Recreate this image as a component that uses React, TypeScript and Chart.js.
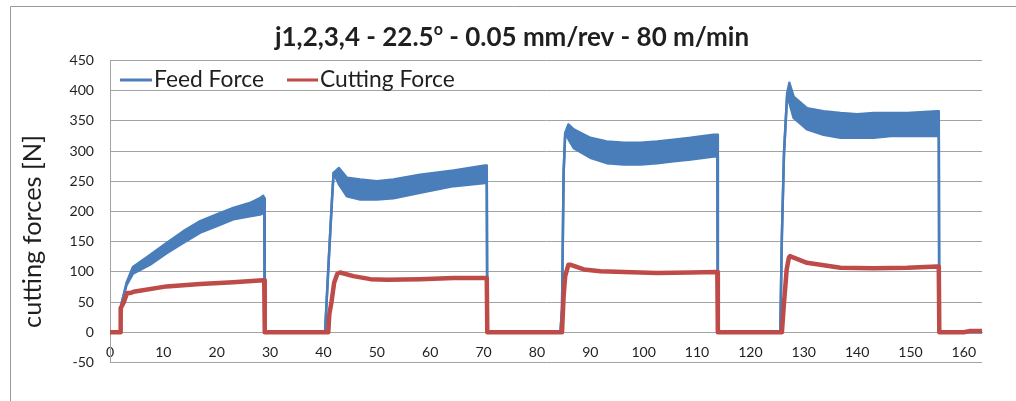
import React, { useEffect, useRef } from "react";
import { Chart, registerables } from "chart.js";

Chart.register(...registerables);

// ---- text ----
const TITLE_MAIN = "j1,2,3,4 - 22.5";
const TITLE_SUP = "o";
const TITLE_REST = " - 0.05 mm/rev - 80 m/min";
const Y_TITLE = "cutting forces [N]";
const SERIES_NAMES = ["Feed Force", "Cutting Force"];

// ---- axis ticks ----
const xTicks = [0, 10, 20, 30, 40, 50, 60, 70, 80, 90, 100, 110, 120, 130, 140, 150, 160];
const yTicks = [-50, 0, 50, 100, 150, 200, 250, 300, 350, 400, 450];
const X_MAX = 163.4;

// ---- Feed Force (noisy band: upper and lower envelope) ----
const feedTime = [
  0, 1.9, 2.2, 3.1, 4.3, 7.5, 10.6, 13.7, 16.9, 20, 23.1, 26.2, 28.1, 28.7, 28.9, 29.0,
  40.3, 40.9, 41.6, 41.9, 42.9, 44.4, 46.9, 50, 53.1, 58.1, 64.4, 70.3, 70.6, 70.7,
  84.4, 84.7, 85.0, 85.3, 85.9, 86.9, 90, 93.1, 96.3, 99.4, 102.5, 105.6, 108.8, 113.1, 113.8, 113.9,
  125.6, 125.9, 126.3, 126.9, 127.3, 128.1, 130.6, 133.7, 136.9, 140, 143.1, 146.3, 149.4, 155.0, 155.3, 155.4, 163.4,
];
const feedUpper = [
  0, 0, 49, 82, 108, 128, 148, 167, 184, 195, 206, 214, 222, 226, 222, 0,
  0, 104, 220, 264, 272, 256, 253, 250, 253, 261, 268, 276, 276, 0,
  0, 38, 264, 330, 344, 336, 322, 316, 314, 314, 316, 319, 322, 327, 327, 0,
  0, 159, 297, 396, 413, 390, 371, 366, 363, 361, 363, 363, 363, 366, 366, 0, 0,
];
const feedLower = [
  0, 0, 49, 78, 97, 112, 131, 148, 165, 176, 187, 192, 195, 197, 200, 0,
  0, 104, 220, 264, 245, 225, 220, 220, 222, 231, 242, 247, 247, 0,
  0, 38, 264, 330, 320, 305, 289, 280, 278, 278, 280, 283, 286, 291, 291, 0,
  0, 159, 297, 396, 380, 355, 336, 327, 322, 322, 322, 325, 325, 325, 325, 0, 0,
];

// ---- Cutting Force ----
const cutTime = [
  0, 1.9, 2.0, 2.6, 3.2, 3.75, 4.4, 10.6, 16.9, 23.1, 28.7, 28.9, 29.0,
  40.9, 41.1, 41.5, 42.0, 42.6, 43.1, 45.6, 48.8, 51.9, 58.1, 64.4, 70.3, 70.6, 70.7,
  84.7, 85.0, 85.3, 85.9, 86.2, 88.8, 91.9, 96.3, 102.5, 108.8, 113.5, 113.8, 113.9,
  125.9, 126.3, 126.8, 127.2, 127.4, 130.6, 136.9, 143.1, 149.4, 155.0, 155.3, 155.4, 160, 161, 163.4,
];
const cutValues = [
  0, 0, 40, 50, 65, 65, 67, 76, 80, 83, 86, 86, 0,
  0, 30, 50, 82, 97, 99, 93, 88, 87, 88, 90, 90, 90, 0,
  0, 60, 93, 112, 112, 104, 101, 100, 98, 99, 100, 100, 0,
  0, 49, 104, 123, 126, 115, 107, 106, 107, 109, 109, 0, 0, 2, 2,
];

const BLUE = "#4A7EBB";
const RED = "#BE4B48";
const GRID = "#a3a3a3";
const FRAME = "#9a9a9a";
const TEXT = "#1f1f1f";
const FAMILY = "Lato, 'Open Sans', sans-serif";

function fitSize(text: string, weight: string, target: number): number {
  const c = document.createElement("canvas").getContext("2d")!;
  c.font = `${weight} 100px ${FAMILY}`;
  const w = c.measureText(text).width;
  return (100 * target) / w;
}

export default function App() {
  const ref = useRef<HTMLCanvasElement | null>(null);

  useEffect(() => {
    const canvas = ref.current;
    if (!canvas) return;

    const tickSize = fitSize("100", "normal", 24.5);
    const legendSize = fitSize(SERIES_NAMES[0], "normal", 110);
    const yTitleSize = fitSize(Y_TITLE, "normal", 193);
    const titleSize = fitSize(TITLE_MAIN + TITLE_SUP + TITLE_REST, "bold", 480);

    const textPlugin = {
      id: "textPlugin",
      beforeDraw(chart: any) {
        const ctx = chart.ctx;
        ctx.save();
        ctx.fillStyle = "#ffffff";
        ctx.fillRect(0, 0, chart.width, chart.height);
        ctx.strokeStyle = FRAME;
        ctx.lineWidth = 1;
        ctx.beginPath();
        ctx.moveTo(10.5, chart.height);
        ctx.lineTo(10.5, 6.5);
        ctx.lineTo(chart.width, 6.5);
        ctx.stroke();
        ctx.restore();
      },
      afterDraw(chart: any) {
        const ctx = chart.ctx;
        ctx.save();
        ctx.fillStyle = TEXT;
        ctx.textBaseline = "alphabetic";
        ctx.textAlign = "left";

        // title with superscript
        const big = `bold ${titleSize}px ${FAMILY}`;
        const small = `bold ${titleSize * 0.62}px ${FAMILY}`;
        ctx.font = big;
        const w1 = ctx.measureText(TITLE_MAIN).width;
        const w3 = ctx.measureText(TITLE_REST).width;
        ctx.font = small;
        const w2 = ctx.measureText(TITLE_SUP).width;
        let tx = 512 - (w1 + w2 + w3) / 2;
        const base = 46;
        ctx.font = big;
        ctx.fillText(TITLE_MAIN, tx, base);
        tx += w1;
        ctx.font = small;
        ctx.fillText(TITLE_SUP, tx, base - titleSize * 0.42);
        tx += w2;
        ctx.font = big;
        ctx.fillText(TITLE_REST, tx, base);

        // legend
        ctx.font = `normal ${legendSize}px ${FAMILY}`;
        const items = [
          { name: SERIES_NAMES[0], color: BLUE, x0: 120, x1: 152, tx: 154 },
          { name: SERIES_NAMES[1], color: RED, x0: 287, x1: 318, tx: 320 },
        ];
        for (const it of items) {
          ctx.strokeStyle = it.color;
          ctx.lineWidth = 3;
          ctx.beginPath();
          ctx.moveTo(it.x0, 80);
          ctx.lineTo(it.x1, 80);
          ctx.stroke();
          ctx.fillText(it.name, it.tx, 86.5);
        }

        // y axis title
        ctx.font = `normal ${yTitleSize}px ${FAMILY}`;
        ctx.translate(41, 231.5);
        ctx.rotate(-Math.PI / 2);
        ctx.textAlign = "center";
        ctx.fillText(Y_TITLE, 0, 0);
        ctx.restore();
      },
    };

    const feedUpperPts = feedTime.map((t, i) => ({ x: t, y: feedUpper[i] }));
    const feedLowerPts = feedTime.map((t, i) => ({ x: t, y: feedLower[i] }));
    const cutPts = cutTime.map((t, i) => ({ x: t, y: cutValues[i] }));

    const chart = new Chart(canvas, {
      type: "line",
      data: {
        datasets: [
          {
            label: SERIES_NAMES[1],
            data: cutPts,
            borderColor: RED,
            borderWidth: 4.5,
            pointRadius: 0,
            fill: false,
            borderJoinStyle: "round",
          },
          {
            label: SERIES_NAMES[0],
            data: feedUpperPts,
            borderColor: BLUE,
            backgroundColor: BLUE,
            borderWidth: 2.5,
            pointRadius: 0,
            fill: "+1",
            borderJoinStyle: "round",
          },
          {
            label: SERIES_NAMES[0] + " (lower)",
            data: feedLowerPts,
            borderColor: BLUE,
            borderWidth: 2.5,
            pointRadius: 0,
            fill: false,
            borderJoinStyle: "round",
          },
        ],
      },
      options: {
        animation: false,
        responsive: false,
        devicePixelRatio: 1,
        parsing: false,
        layout: { padding: { left: 0, top: 60.5, right: 34, bottom: 38.5 } },
        plugins: {
          legend: { display: false },
          title: { display: false },
          tooltip: { enabled: false },
        },
        elements: { line: { tension: 0 } },
        scales: {
          x: {
            type: "linear",
            min: 0,
            max: X_MAX,
            position: { y: 0 } as any,
            grid: { display: false, drawTicks: false },
            border: { display: true, color: GRID },
            afterBuildTicks: (s: any) => {
              s.ticks = xTicks.map((v) => ({ value: v }));
            },
            ticks: {
              autoSkip: false,
              maxRotation: 0,
              padding: 12,
              color: TEXT,
              font: { family: FAMILY, size: tickSize },
            },
          },
          y: {
            type: "linear",
            min: -50,
            max: 450,
            position: "left",
            afterFit: (s: any) => {
              s.width = 110;
            },
            afterBuildTicks: (s: any) => {
              s.ticks = yTicks.map((v) => ({ value: v }));
            },
            grid: { color: GRID, drawTicks: false, lineWidth: 1 },
            border: { display: true, color: GRID },
            ticks: {
              padding: 16,
              color: TEXT,
              font: { family: FAMILY, size: tickSize },
            },
          },
        },
      },
      plugins: [textPlugin],
    } as any);

    return () => chart.destroy();
  }, []);

  return (
    <div style={{ position: "fixed", left: 0, top: 0, width: 1016, height: 401, background: "#fff" }}>
      <canvas ref={ref} width={1016} height={401} style={{ display: "block", width: 1016, height: 401 }} />
    </div>
  );
}
